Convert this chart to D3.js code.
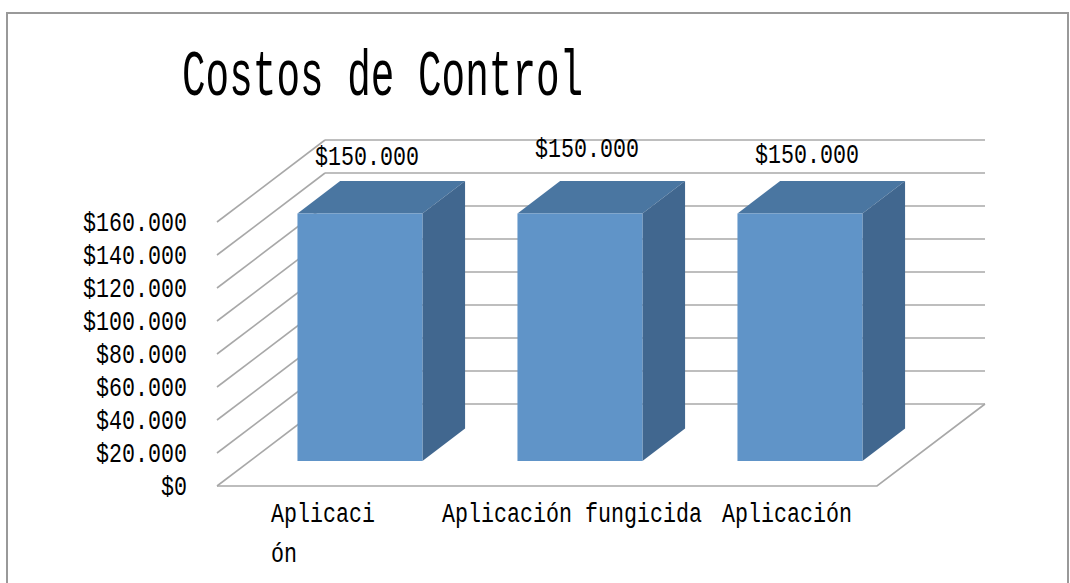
<!DOCTYPE html>
<html>
<head>
<meta charset="utf-8">
<script src="https://cdn.jsdelivr.net/npm/d3@7"></script>
<style>
  html, body { margin: 0; padding: 0; background: #fff; }
  svg { display: block; }
  text { font-family: "Liberation Mono", "DejaVu Sans Mono", monospace; fill: #000; }
</style>
</head>
<body>
<script>
// data
const categories = ["Aplicación", "Aplicación fungicida", "Aplicación"];
const tickLines = [["Aplicaci", "ón"], ["Aplicación fungicida"], ["Aplicación"]];
const costs = [150000, 150000, 150000];
const yTicks = [0, 20000, 40000, 60000, 80000, 100000, 120000, 140000, 160000];

// small layout nudges (Excel places these a bit unevenly)
const valueNudge = [3, -5, 1];
const tickNudge = [-4, 25, 20];

const width = 1070, height = 583;
const DX = 108, DY = -82;          // depth vector of the 3d box
const barDepth = [0.305, 0.70];     // bar front / back as fraction of depth
const charW = 13.0, fontSize = 27;  // narrow gothic look
const sx = charW / (0.6 * fontSize); // horizontal squeeze of the mono font
const titleSize = 64, titleSx = 23.6 / (0.6 * titleSize);

const svg = d3.select("body").append("svg")
  .attr("width", width)
  .attr("height", height);

// chart area border
svg.append("rect")
  .attr("x", 7).attr("y", 13)
  .attr("width", 1061).attr("height", 600)
  .attr("fill", "none")
  .attr("stroke", "#999")
  .attr("stroke-width", 2);

const x = d3.scaleBand()
  .domain(d3.range(categories.length))
  .range([217, 877])
  .paddingInner(0.432)
  .paddingOuter(0.216);

const y = d3.scaleLinear()
  .domain([0, 160000])
  .range([486, 222]);

const z = d3.scaleLinear().domain([0, 1]).range([0, 1]);

function proj(px, v, d) {
  return [px + z(d) * DX, y(v) + z(d) * DY];
}

const fmt = d3.formatLocale({ decimal: ",", thousands: ".", grouping: [3], currency: ["$", ""] })
  .format("$,.0f");

const grid = svg.append("g")
  .attr("fill", "none")
  .attr("stroke", "#a8a8a8")
  .attr("stroke-width", 1.6);

const x0 = x.range()[0], x1 = x.range()[1];

// back wall lines
grid.selectAll(".back").data(yTicks).join("line")
  .attr("x1", d => proj(x0, d, 1)[0])
  .attr("y1", d => proj(x0, d, 1)[1])
  .attr("x2", d => proj(x1, d, 1)[0])
  .attr("y2", d => proj(x1, d, 1)[1]);

// side wall lines
grid.selectAll(".side").data(yTicks).join("line")
  .attr("x1", d => proj(x0, d, 0)[0])
  .attr("y1", d => proj(x0, d, 0)[1])
  .attr("x2", d => proj(x0, d, 1)[0])
  .attr("y2", d => proj(x0, d, 1)[1]);

// floor
grid.append("path")
  .attr("d", d3.line()([proj(x0, 0, 0), proj(x1, 0, 0), proj(x1, 0, 1)]));

// y axis
const yAxis = d3.axisLeft(y)
  .tickValues(yTicks)
  .tickFormat(fmt)
  .tickSize(0)
  .tickPadding(30);

const ya = svg.append("g")
  .attr("transform", `translate(${x0},0)`)
  .call(yAxis);
ya.select(".domain").remove();
ya.selectAll("text")
  .attr("font-family", null)
  .attr("font-size", fontSize)
  .attr("x", 0)
  .attr("dy", "0.33em")
  .attr("transform", `translate(-30,0) scale(${sx},1)`);

// bars
const bw = x.bandwidth();
const bars = svg.append("g").selectAll("g").data(costs).join("g");

bars.append("path")
  .attr("fill", "#4a76a1")
  .attr("d", (d, i) => {
    const l = x(i), r = x(i) + bw;
    return d3.line()([proj(l, d, barDepth[0]), proj(l, d, barDepth[1]), proj(r, d, barDepth[1]), proj(r, d, barDepth[0])]) + "Z";
  });

bars.append("path")
  .attr("fill", "#41678f")
  .attr("d", (d, i) => {
    const r = x(i) + bw;
    return d3.line()([proj(r, 0, barDepth[0]), proj(r, d, barDepth[0]), proj(r, d, barDepth[1]), proj(r, 0, barDepth[1])]) + "Z";
  });

bars.append("path")
  .attr("fill", "#6094c8")
  .attr("d", (d, i) => {
    const l = x(i), r = x(i) + bw;
    return d3.line()([proj(l, 0, barDepth[0]), proj(l, d, barDepth[0]), proj(r, d, barDepth[0]), proj(r, 0, barDepth[0])]) + "Z";
  });

// value labels
bars.append("text")
  .attr("transform", (d, i) => {
    const cx = proj(x(i) + bw / 2, d, barDepth[0])[0] + 7;
    const cy = proj(0, d, barDepth[1])[1] - 19 + valueNudge[i];
    return `translate(${cx},${cy}) scale(${sx},1)`;
  })
  .attr("text-anchor", "middle")
  .attr("font-size", fontSize)
  .text(d => fmt(d));

// category labels
const cats = svg.append("g").selectAll("text").data(tickLines).join("text")
  .attr("font-size", fontSize)
  .attr("transform", (lines, i) => {
    const wMax = d3.max(lines, s => s.length) * charW;
    const left = x(i) + bw / 2 + tickNudge[i] - wMax / 2;
    return `translate(${left},522) scale(${sx},1)`;
  });

cats.selectAll("tspan").data(d => d).join("tspan")
  .attr("x", 0)
  .attr("y", (s, j) => j * 40)
  .text(s => s);

// title
svg.append("text")
  .attr("transform", `translate(182,95) scale(${titleSx},1)`)
  .attr("font-size", titleSize)
  .text("Costos de Control");
</script>
</body>
</html>
